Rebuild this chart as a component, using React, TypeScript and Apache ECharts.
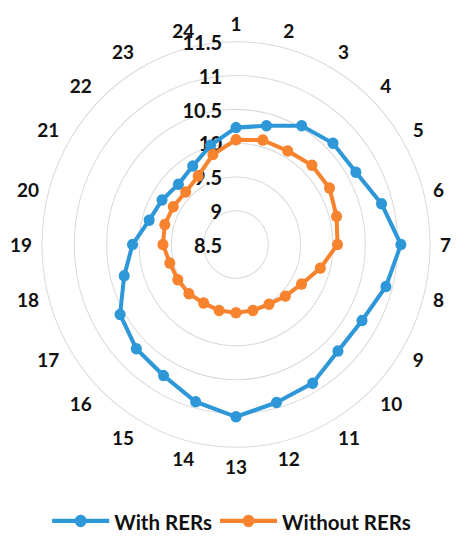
import React, { useEffect, useRef } from 'react';
import * as echarts from 'echarts';

const indicatorNames = ['1', '2', '3', '4', '5', '6', '7', '8', '9', '10', '11', '12', '13', '14', '15', '16', '17', '18', '19', '20', '21', '22', '23', '24'];
const withRERs = [10.23, 10.32, 10.53, 10.62, 10.64, 10.83, 11.05, 10.9, 10.75, 10.73, 10.87, 10.92, 11.05, 10.91, 10.74, 10.68, 10.57, 10.29, 10.1, 9.89, 9.82, 9.76, 9.84, 10.02];
const withoutRERs = [10.05, 10.1, 10.1, 10.16, 10.17, 10.11, 10.07, 9.85, 9.67, 9.58, 9.52, 9.51, 9.51, 9.51, 9.5, 9.53, 9.54, 9.56, 9.63, 9.64, 9.62, 9.6, 9.67, 9.88];
const seriesNames = ['With RERs', 'Without RERs'];
const axisMin = 8.5;
const axisMax = 11.5;
const splitCount = 6;

const BLUE = '#2E97D8';
const ORANGE = '#F7832F';
const COLORS = [BLUE, ORANGE];
const FONT = 'Lato';
const NAME_SIZE = 19;
const CENTER: [number, number] = [236, 234];
const RADIUS = 194;

// the reference picture is slightly stretched vertically
const STRETCH_Y = 1.045;
const PAGE_W = 463;
const PAGE_H = 550;

// ECharts radar runs counter-clockwise; reorder so that the indicators go clockwise
const clockwise = <T,>(arr: T[]): T[] => [arr[0], ...arr.slice(1).reverse()];

export default function App() {
  const ref = useRef<HTMLDivElement>(null);
  useEffect(() => {
    const chart = echarts.init(ref.current!, null, { renderer: 'svg' });
    const values = [withRERs, withoutRERs];
    const textBase = { color: '#111', fontFamily: FONT, fontWeight: 'bold' as const };
    chart.setOption({
      animation: false,
      backgroundColor: '#fff',
      color: COLORS,
      legend: {
        bottom: 12,
        left: 'center',
        itemWidth: 57,
        itemHeight: 14,
        itemGap: 8,
        icon: 'path://M0,5L57,5L57,9L0,9Z M22.5,7A6,6 0 1 1 34.5,7A6,6 0 1 1 22.5,7Z',
        textStyle: { ...textBase, fontSize: 20.5 },
        data: seriesNames.map((n, i) => ({
          name: n,
          itemStyle: { color: COLORS[i], borderWidth: 0 },
        })),
      },
      // polar frame only used for the Excel-like placement of the category names
      polar: { center: CENTER, radius: RADIUS },
      angleAxis: {
        type: 'category',
        data: indicatorNames,
        startAngle: 90,
        clockwise: true,
        boundaryGap: false,
        axisLine: { show: false },
        axisTick: { show: false },
        splitLine: { show: false },
        axisLabel: { ...textBase, fontSize: NAME_SIZE, lineHeight: 16, margin: 10, interval: 0 },
      },
      radiusAxis: { show: false, min: axisMin, max: axisMax },
      radar: {
        center: CENTER,
        radius: RADIUS,
        startAngle: 90,
        shape: 'circle',
        splitNumber: splitCount,
        axisName: { show: false },
        splitLine: { lineStyle: { color: '#d9d9d9', width: 1 } },
        splitArea: { show: false },
        axisLine: { show: false },
        axisTick: { show: false },
        axisLabel: { show: false, margin: 14, ...textBase, fontSize: 20, lineHeight: 16 },
        indicator: clockwise(indicatorNames).map((n, i) => ({
          name: n,
          min: axisMin,
          max: axisMax,
          ...(i === 0 ? { axisLabel: { show: true } } : {}),
        })),
      },
      series: seriesNames.map((n, i) => ({
        type: 'radar',
        name: n,
        symbol: 'circle',
        symbolSize: 11,
        lineStyle: { width: 4, color: COLORS[i] },
        itemStyle: { color: COLORS[i], borderWidth: 0 },
        data: [
          {
            name: n,
            value: clockwise(values[i]),
            lineStyle: { width: 4, color: COLORS[i] },
            itemStyle: { color: COLORS[i] },
          },
        ],
      })),
    });
    return () => chart.dispose();
  }, []);
  return (
    <div
      style={{ position: 'fixed', left: 0, top: 0, width: PAGE_W, height: PAGE_H, background: '#fff', overflow: 'hidden' }}
    >
      <div
        ref={ref}
        style={{
          width: PAGE_W,
          height: PAGE_H / STRETCH_Y,
          transform: `scaleY(${STRETCH_Y})`,
          transformOrigin: '0 0',
        }}
      />
    </div>
  );
}
